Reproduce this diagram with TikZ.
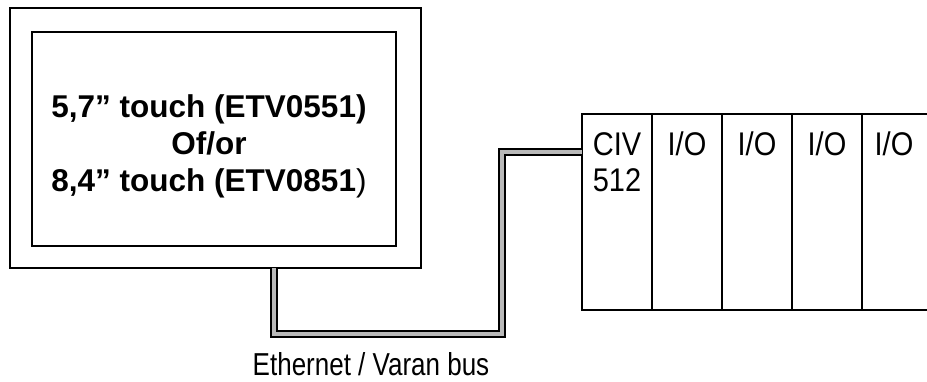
\documentclass[tikz,border=0pt]{standalone}
\usepackage{fontspec}
\setmainfont{Liberation Sans}
\newcommand\tallbox[2][1.13]{\scalebox{1}[#1]{#2}}
\begin{document}
\begin{tikzpicture}[x=1pt, y=-1pt,
  box/.style={draw, line width=1.8pt, inner sep=0pt, outer sep=0pt},
  cable/.style={line width=2pt, double=gray!55, double distance=3.5pt},
  every node/.style={font=\fontsize{29}{36}\selectfont}]
  \useasboundingbox (0,0) rectangle (927,381);
  \def\modw{70} \def\modh{196}
  % --- operator panel ---
  \node[box, minimum width=411pt, minimum height=260pt] (frame) at (215.5,138) {};
  \node[box, minimum width=364pt, minimum height=214pt] (screen) at (214,139) {};
  \node[align=center, font=\fontsize{31.5}{37}\selectfont\bfseries] (model) at (209,146)
    {5,7” touch (ETV0551)\\Of/or\\8,4” touch (ETV0851{\mdseries )}};
  % --- rack ---
  \node[box, minimum width=\modw pt, minimum height=\modh pt, anchor=north west] (civ) at (582,114) {};
  \node[anchor=north, align=left, yshift=-14.7pt] (civlbl) at (civ.north) {\tallbox{CIV}\\\tallbox{512}};
  \foreach \i in {1,...,3} {
    \node[box, minimum width=\modw pt, minimum height=\modh pt, anchor=north west] (io\i) at (582+\modw*\i,114) {};
    \node[anchor=north, yshift=-14.7pt] (iolbl\i) at (io\i.north) {\tallbox{I/O}};
  }
  \draw[line width=1.8pt] (io3.north east) -- (927,114) (io3.south east) -- (927,310);
  \node[anchor=north] (iolbl4) at (894,128.7) {\tallbox{I/O}};
  % --- bus cable ---
  \coordinate (bendA) at (274,334);
  \coordinate (bendB) at (502,152);
  \draw[cable] (frame.south -| bendA) -- (bendA) -| (bendB) -- (bendB -| civ.west);
  \node[anchor=base, font=\fontsize{26}{30}\selectfont] (buslbl) at (371,375) {\tallbox[1.22]{Ethernet / Varan bus}};
\end{tikzpicture}
\end{document}
